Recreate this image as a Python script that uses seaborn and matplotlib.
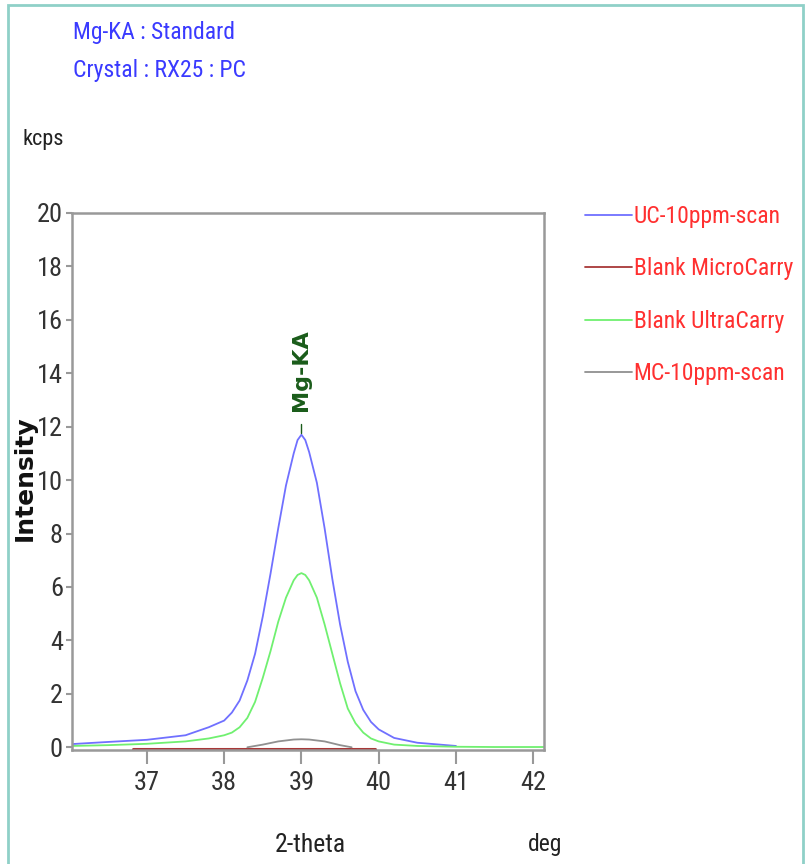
import numpy as np
import pandas as pd
import seaborn as sns
import matplotlib.pyplot as plt
from matplotlib import font_manager
from matplotlib.patches import Rectangle

# scan data (2-theta in deg, intensity in kcps)
uc_x = [36.03, 36.5, 37.0, 37.5, 37.8, 38.0, 38.1, 38.2, 38.3, 38.4, 38.5, 38.6, 38.7,
        38.8, 38.9, 38.95, 39.0, 39.05, 39.1, 39.2, 39.3, 39.4, 39.5, 39.6, 39.7, 39.8,
        39.9, 40.0, 40.2, 40.5, 41.0]
uc_y = [0.12, 0.2, 0.28, 0.45, 0.75, 1.0, 1.3, 1.75, 2.5, 3.5, 4.9, 6.5, 8.2,
        9.8, 11.0, 11.5, 11.7, 11.5, 11.05, 9.9, 8.2, 6.3, 4.6, 3.2, 2.1, 1.4,
        0.95, 0.67, 0.35, 0.17, 0.05]

bmc_x = [36.82, 37.5, 38.0, 38.5, 39.0, 39.5, 39.95]
bmc_y = [-0.05, -0.05, -0.05, -0.05, -0.05, -0.05, -0.05]

buc_x = [36.03, 36.5, 37.0, 37.5, 37.8, 38.0, 38.1, 38.2, 38.3, 38.4, 38.5, 38.6, 38.7,
         38.8, 38.9, 38.95, 39.0, 39.05, 39.1, 39.2, 39.3, 39.4, 39.5, 39.6, 39.7, 39.8,
         39.9, 40.0, 40.2, 40.5, 41.0, 41.5, 42.14]
buc_y = [0.05, 0.08, 0.13, 0.22, 0.33, 0.45, 0.55, 0.75, 1.1, 1.7, 2.6, 3.6, 4.7,
         5.6, 6.25, 6.45, 6.52, 6.45, 6.25, 5.6, 4.6, 3.5, 2.4, 1.45, 0.9, 0.55,
         0.33, 0.22, 0.1, 0.05, 0.02, 0.01, 0.01]

mc_x = [38.3, 38.5, 38.7, 38.9, 39.0, 39.1, 39.3, 39.5, 39.65]
mc_y = [0.0, 0.1, 0.22, 0.29, 0.3, 0.29, 0.22, 0.08, 0.0]

series = ["UC-10ppm-scan", "Blank MicroCarry", "Blank UltraCarry", "MC-10ppm-scan"]
colors = ["#7070ff", "#a83838", "#70f070", "#909090"]

df = pd.concat([
    pd.DataFrame({"x": uc_x, "y": uc_y, "scan": series[0]}),
    pd.DataFrame({"x": bmc_x, "y": bmc_y, "scan": series[1]}),
    pd.DataFrame({"x": buc_x, "y": buc_y, "scan": series[2]}),
    pd.DataFrame({"x": mc_x, "y": mc_y, "scan": series[3]}),
])

sns.set_style("white")
# a narrow face looks closest to the reference; take whichever one is installed
names = {f.name for f in font_manager.fontManager.ttflist}
narrow = next((n for n in ["Liberation Sans Narrow", "Roboto Condensed",
                           "Open Sans Condensed"] if n in names), None)
if narrow:
    plt.rcParams['font.family'] = [narrow, 'DejaVu Sans']
else:
    plt.rcParams['font.family'] = ['DejaVu Sans']
    plt.rcParams['font.stretch'] = 'condensed'

fig = plt.figure(figsize=(8.05, 8.64), dpi=100)
ax = fig.add_axes([0.0894, 0.1320, 0.5864, 0.6215])

sns.lineplot(data=df, x="x", y="y", hue="scan", hue_order=series,
             palette=dict(zip(series, colors)), linewidth=1.3, sort=False,
             estimator=None, ax=ax)
ax.get_lines()[1].set_linewidth(2.2)

ax.set_xlim(36.03, 42.14)
ax.set_ylim(-0.1, 20)
ax.set_xticks([37, 38, 39, 40, 41, 42])
ax.set_yticks(range(0, 21, 2))
ax.set_xlabel("")
ax.set_ylabel("")
for s in ax.spines.values():
    s.set_color("#999999")
    s.set_linewidth(1.8)
ax.tick_params(axis="both", direction="out", width=1.5, color="#999999",
               labelsize=19, labelcolor="#333333", left=True, bottom=True)
ax.tick_params(axis="x", length=10, pad=5)
ax.tick_params(axis="y", length=4.5, pad=2)

# peak marker
ax.plot([39.0, 39.0], [11.75, 12.1], color="#1a5c1a", linewidth=1)
ax.text(39.0, 12.6, "Mg-KA", rotation=90, ha="center", va="bottom",
        color="#1a5c1a", fontsize=16, fontweight="bold", family="DejaVu Sans",
        fontstretch="normal")

leg = ax.legend(loc="upper left", bbox_to_anchor=(0.727, 0.763),
                bbox_transform=fig.transFigure, frameon=False, handlelength=2.0,
                handletextpad=0.05, labelspacing=1.25, fontsize=17, borderaxespad=0,
                borderpad=0)
for t in leg.get_texts():
    t.set_color("#ff3030")

fig.text(73 / 805, 1 - 32 / 864, "Mg-KA : Standard", color="#3a3aff", fontsize=17,
         va="center", ha="left")
fig.text(73 / 805, 1 - 70 / 864, "Crystal : RX25 : PC", color="#3a3aff", fontsize=17,
         va="center", ha="left")
fig.text(22 / 805, 1 - 140 / 864, "kcps", color="#222222", fontsize=16,
         va="center", ha="left")
fig.text(25 / 805, 1 - 478 / 864, "Intensity", rotation=90, color="#111111",
         fontsize=18, fontweight="bold", va="center", ha="center", family="DejaVu Sans",
         fontstretch="normal")
fig.text(310 / 805, 1 - 845 / 864, "2-theta", color="#222222", fontsize=18.5,
         va="center", ha="center")
fig.text(545 / 805, 1 - 845 / 864, "deg", color="#222222", fontsize=17,
         va="center", ha="center")

# thin teal frame round the panel
fig.patches.append(Rectangle((8 / 805, -0.01), 795 / 805, 1 - 5 / 864 + 0.01,
                             transform=fig.transFigure, fill=False,
                             edgecolor="#8fd0c8", linewidth=2))

fig.savefig("out.png", dpi=100)
